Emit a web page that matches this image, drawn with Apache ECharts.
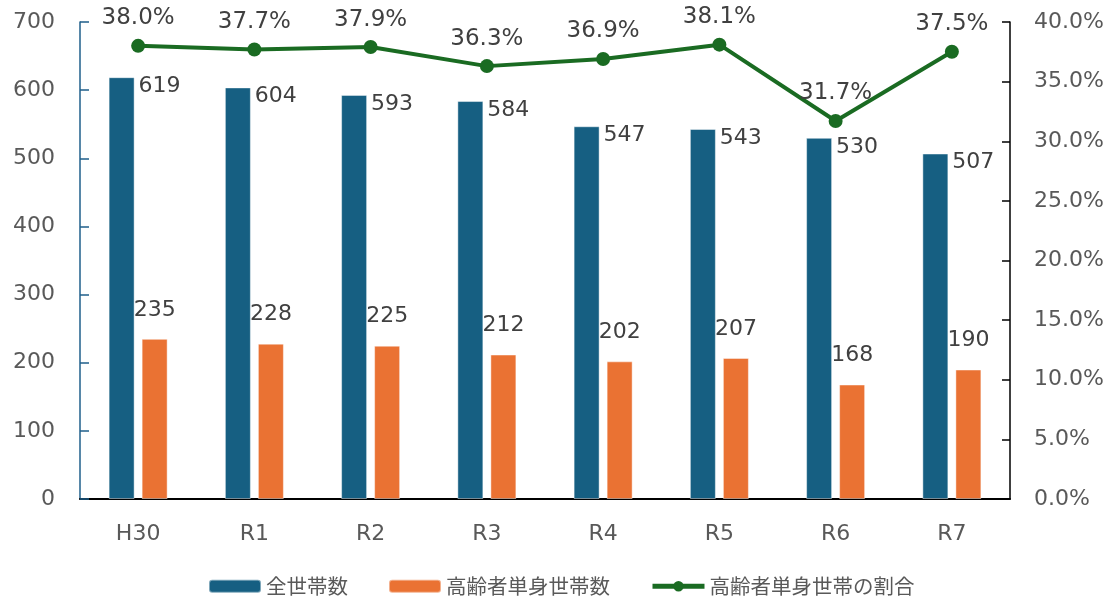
<!DOCTYPE html>
<html><head><meta charset="utf-8">
<script src="https://cdn.jsdelivr.net/npm/echarts@6/dist/echarts.min.js"></script>
<style>html,body{margin:0;padding:0;background:#fff}#c{width:1120px;height:598px}</style>
</head><body><div id="c"></div>
<script>
const categories = ['H30','R1','R2','R3','R4','R5','R6','R7'];
const totalHouseholds = [619,604,593,584,547,543,530,507];
const elderlySingle = [235,228,225,212,202,207,168,190];
const elderlyRatio = [38.0,37.7,37.9,36.3,36.9,38.1,31.7,37.5];
const leftTicks = {min:0,max:700,interval:100};
const rightTicks = {min:0,max:40,interval:5};

const FONT = '"DejaVu Sans", Verdana, "Noto Sans CJK JP", sans-serif';
const chart = echarts.init(document.getElementById('c'));
chart.setOption({
  animation:false,
  textStyle:{fontFamily:FONT},
  grid:{left:80,right:110,top:22,bottom:99,containLabel:false},
  legend:{
    left:203, top:571, itemWidth:52, itemHeight:13, itemGap:40,
    textStyle:{fontSize:20.5,color:'#595959',fontFamily:'"Noto Sans CJK JP", sans-serif'},
    data:['全世帯数','高齢者単身世帯数',
      {name:'高齢者単身世帯の割合',lineStyle:{width:5,color:'#1a6b22'},itemStyle:{color:'#1a6b22'}}]
  },
  xAxis:{
    type:'category', data:categories,
    axisLine:{lineStyle:{color:'#000',width:2}},
    axisTick:{show:false},
    axisLabel:{color:'#595959',fontSize:22,margin:24,fontFamily:FONT}
  },
  yAxis:[
    {type:'value',min:leftTicks.min,max:leftTicks.max,interval:leftTicks.interval,
     axisLine:{show:true,lineStyle:{color:'#1f5f8b',width:1.5}},
     axisTick:{show:true,inside:true,length:9,lineStyle:{color:'#1f5f8b',width:1.5}},
     splitLine:{show:false},
     axisLabel:{color:'#595959',fontSize:22,margin:25,fontFamily:FONT}},
    {type:'value',min:rightTicks.min,max:rightTicks.max,interval:rightTicks.interval,position:'right',
     axisLine:{show:true,lineStyle:{color:'#000',width:1.5}},
     axisTick:{show:true,inside:true,length:8,lineStyle:{color:'#000',width:1.5}},
     splitLine:{show:false},
     axisLabel:{color:'#595959',fontSize:22,margin:24,fontFamily:FONT,formatter:v=>v.toFixed(1)+'%'}}
  ],
  series:[
    {name:'全世帯数',type:'bar',data:totalHouseholds,barWidth:26,barGap:'27%',
     itemStyle:{color:'#165f82',borderColor:'rgba(255,255,255,0.45)',borderWidth:1},
     label:{show:true,position:['100%',0],align:'left',verticalAlign:'top',offset:[4,-2],
            color:'#404040',fontSize:22,fontFamily:FONT}},
    {name:'高齢者単身世帯数',type:'bar',data:elderlySingle,barWidth:26,
     itemStyle:{color:'#ea7233',borderColor:'rgba(255,255,255,0.45)',borderWidth:1},
     label:{show:true,position:'top',distance:18,color:'#404040',fontSize:22,fontFamily:FONT}},
    {name:'高齢者単身世帯の割合',type:'line',yAxisIndex:1,data:elderlyRatio,
     symbol:'circle',symbolSize:14,
     lineStyle:{color:'#1a6b22',width:4},itemStyle:{color:'#1a6b22'},
     label:{show:true,position:'top',distance:9,color:'#404040',fontSize:23,fontFamily:FONT,
            formatter:p=>p.value.toFixed(1)+'%'}}
  ]
});
</script></body></html>
